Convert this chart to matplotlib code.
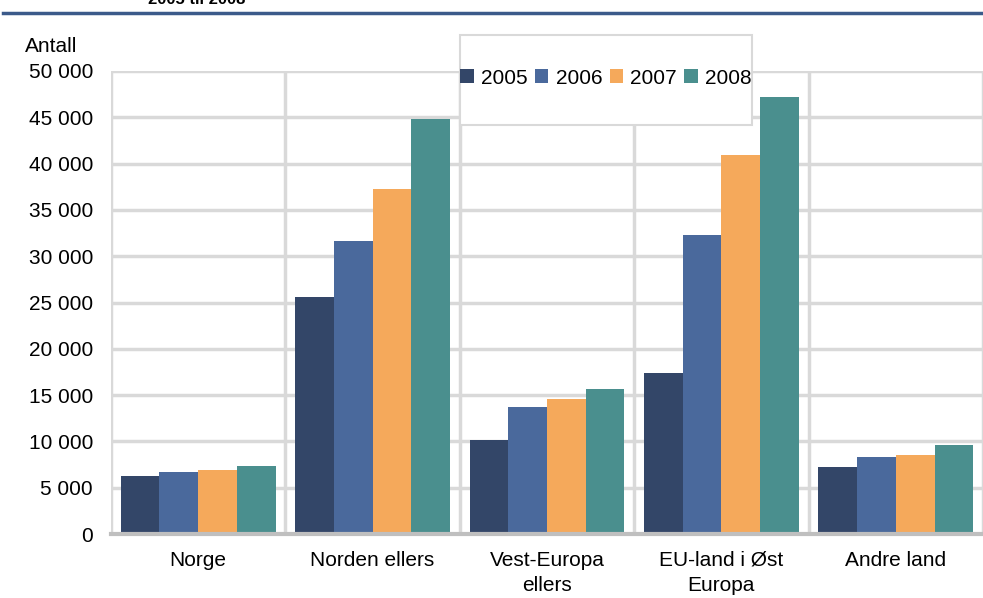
# -*- coding: utf-8 -*-
import numpy as np
import matplotlib.pyplot as plt
from matplotlib.patches import Rectangle

# %% Data ---------------------------------------------------------------------
categories = ['Norge', 'Norden ellers', 'Vest-Europa\nellers',
              'EU-land i Øst\nEuropa', 'Andre land']
years = ['2005', '2006', '2007', '2008']
v2005 = [6250, 25600, 10100, 17400, 7250]
v2006 = [6700, 31650, 13750, 32300, 8350]
v2007 = [6900, 37250, 14600, 40900, 8550]
v2008 = [7350, 44800, 15700, 47200, 9650]
yticks = np.arange(0, 50001, 5000)
colors = ['#334668', '#4a699c', '#f5a95b', '#4a8f8e']

# %% Figure -------------------------------------------------------------------
plt.rcParams['font.family'] = ['Liberation Sans', 'DejaVu Sans']
fs = 15
fig = plt.figure(figsize=(9.83, 5.98), dpi=100)
ax = fig.add_axes([111/983, 64/598, 872/983, 463/598])

x = np.arange(len(categories))
w = 0.222
for i, (vals, c, lab) in enumerate(zip([v2005, v2006, v2007, v2008], colors, years)):
    ax.bar(x + (i - 1.5)*w, vals, w, color=c, label=lab, zorder=3)

ax.set_xlim(-0.5, len(categories) - 0.5)
ax.set_ylim(0, 50000)
ax.set_yticks(yticks)
ax.set_yticklabels([f'{v:,}'.replace(',', ' ') for v in yticks], fontsize=fs)
ax.set_xticks(x)
ax.set_xticklabels(categories, fontsize=fs, linespacing=1.4)
ax.set_xticks(np.arange(-0.5, len(categories)), minor=True)
ax.tick_params(axis='both', which='both', length=0)
ax.tick_params(axis='x', pad=12)
ax.tick_params(axis='y', pad=13)

ax.grid(axis='y', which='major', color='#d9d9d9', lw=2.5, zorder=0)
ax.grid(axis='x', which='minor', color='#d9d9d9', lw=2.5, zorder=0)
for s in ['top', 'right', 'left']:
    ax.spines[s].set_visible(False)
ax.spines['bottom'].set_color('#bfbfbf')
ax.spines['bottom'].set_linewidth(3)
ax.spines['bottom'].set_zorder(4)

fig.text(25/983, 1 - 47/598, 'Antall', fontsize=fs, va='center', ha='left')

# clipped title and header rule
fig.text(148/983, 1 - 4/598, '2005 til 2008', fontsize=12, fontweight='bold',
         va='baseline', ha='left')
fig.add_artist(plt.Line2D([3/983, 1], [1 - 13/598]*2, color='#3b5a8a', lw=2.5))

# legend box
fig.patches.append(Rectangle((460/983, 1 - 125/598), 292/983, 90/598,
                             transform=fig.transFigure, facecolor='white',
                             edgecolor='#d9d9d9', lw=1.5, zorder=5))
leg = fig.legend(loc='center', bbox_to_anchor=(606/983, 1 - 78/598), ncol=4,
                 frameon=False, fontsize=fs, handlelength=0.65,
                 handleheight=0.65, handletextpad=0.35, columnspacing=0.35,
                 borderaxespad=0)
leg.set_zorder(6)

fig.savefig('out.png', dpi=100)
